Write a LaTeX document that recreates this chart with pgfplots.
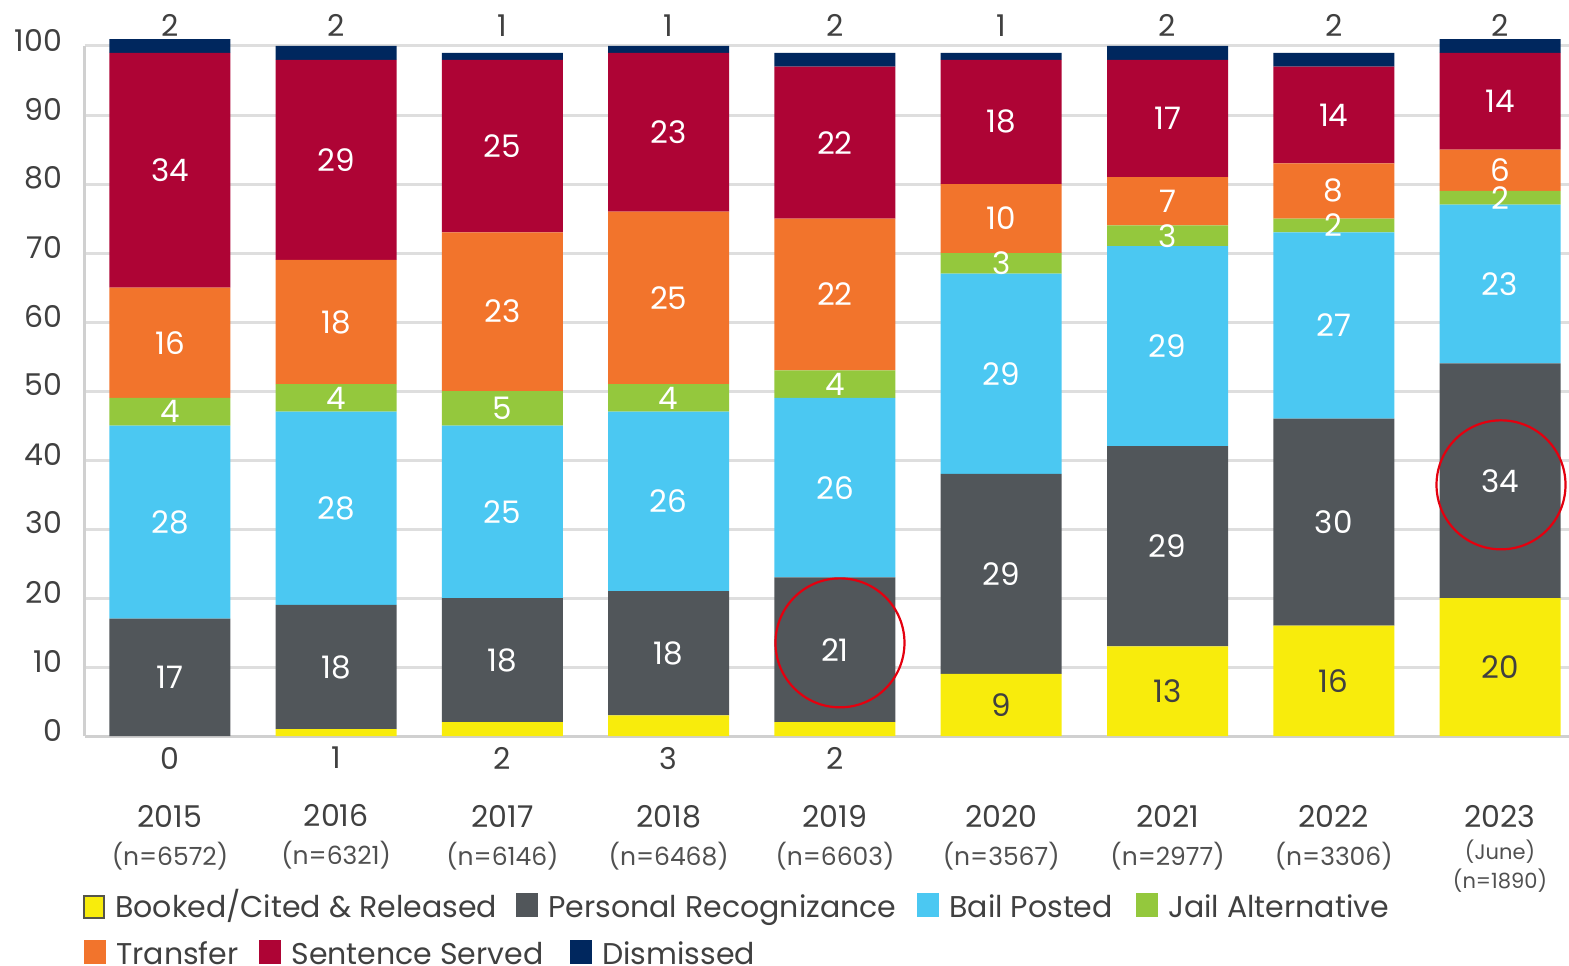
\documentclass[border=0pt]{standalone}
\usepackage{fontspec}
\setmainfont{Poppins}
\usepackage{pgfplots}
\pgfplotsset{compat=1.18}

\definecolor{cBooked}{HTML}{F8EC0C}
\definecolor{cPR}{HTML}{51565A}
\definecolor{cBail}{HTML}{4BC8F2}
\definecolor{cJail}{HTML}{94C83D}
\definecolor{cTransfer}{HTML}{F2742C}
\definecolor{cSentence}{HTML}{AE0435}
\definecolor{cDismissed}{HTML}{00275E}
\definecolor{cText}{HTML}{404040}
\definecolor{cN}{HTML}{505050}
\definecolor{cGrid}{HTML}{DEDEDE}
\definecolor{cAxis}{HTML}{D0D0D0}
\definecolor{cCircle}{HTML}{E4000F}

\newcommand{\nfont}{\fontsize{12.5}{19}\selectfont\color{cN}}
\newcommand{\sfont}{\fontsize{10.5}{19}\selectfont\color{cN}}
\newcommand{\lbox}[1]{\textcolor{#1}{\rule{11pt}{12pt}}}
\newcommand{\lboxb}[1]{{\setlength{\fboxsep}{0pt}\setlength{\fboxrule}{1pt}\fcolorbox[HTML]{55554A}{F8EC0C}{\rule{0pt}{10pt}\rule{9pt}{0pt}}}}

% value labels sit in the middle of each stacked segment
\pgfplotsset{
  get meta/.code={%
    \pgfkeys{/pgf/fpu=true,/pgf/fpu/output format=fixed}%
    \pgfmathparse{\pgfplotspointmeta}\global\let\metaval\pgfmathresult
    \pgfkeys{/pgf/fpu=false}%
  },
  mid labels/.style={
    nodes near coords={\pgfmathprintnumber[fixed,precision=0]{\pgfplotspointmeta}},
    every node near coord/.append style={anchor=center,
      /pgfplots/get meta, text=#1,
      font=\fontsize{15.5}{18}\selectfont},
  },
}

\begin{document}
\begin{tikzpicture}
\useasboundingbox (-42.5pt,-114.5pt) rectangle (742pt,368pt);
\begin{axis}[
  at={(0pt,0pt)}, anchor=south west,
  scale only axis, width=742pt, height=345pt,
  ybar stacked, bar width=60.5pt,
  xmin=-0.511, xmax=8.415, ymin=0, ymax=100,
  clip=false,
  axis x line*=bottom, axis y line*=left,
  axis line style={draw=cAxis, line width=1.5pt},
  major tick length=0,
  ytick={0,10,...,100},
  ymajorgrids, grid style={draw=cGrid, line width=1.5pt},
  /pgf/number format/assume math mode=true,
  yticklabel style={font=\fontsize{15}{17}\selectfont, text=cText, xshift=-8pt, yshift=3pt},
  xtick={0,...,8},
  xticklabels={
    {0\\[10pt]2015\\{\nfont(n=6572)}},
    {1\\[10pt]2016\\{\nfont(n=6321)}},
    {2\\[10pt]2017\\{\nfont(n=6146)}},
    {3\\[10pt]2018\\{\nfont(n=6468)}},
    {2\\[10pt]2019\\{\nfont(n=6603)}},
    {\phantom{0}\\[10pt]2020\\{\nfont(n=3567)}},
    {\phantom{0}\\[10pt]2021\\{\nfont(n=2977)}},
    {\phantom{0}\\[10pt]2022\\{\nfont(n=3306)}},
    {\phantom{0}\\[10pt]2023\\[-3pt]{\sfont(June)}\\[-4.5pt]{\sfont(n=1890)}}},
  xticklabel style={font=\fontsize{15}{19}\selectfont, text=cText, align=center, anchor=north, yshift=-2pt},
]
% Booked/Cited & Released (small values are written under the axis)
\addplot[fill=cBooked, draw=none, mid labels=cText,
  nodes near coords={\ifdim\metaval pt<5pt\relax\else\pgfmathprintnumber[fixed,precision=0]{\pgfplotspointmeta}\fi}]
  coordinates {(0,0) (1,1) (2,2) (3,3) (4,2) (5,9) (6,13) (7,16) (8,20)};
% Personal Recognizance
\addplot[fill=cPR, draw=none, mid labels=white]
  coordinates {(0,17) (1,18) (2,18) (3,18) (4,21) (5,29) (6,29) (7,30) (8,34)};
% Bail Posted
\addplot[fill=cBail, draw=none, mid labels=white]
  coordinates {(0,28) (1,28) (2,25) (3,26) (4,26) (5,29) (6,29) (7,27) (8,23)};
% Jail Alternative
\addplot[fill=cJail, draw=none, mid labels=white]
  coordinates {(0,4) (1,4) (2,5) (3,4) (4,4) (5,3) (6,3) (7,2) (8,2)};
% Transfer
\addplot[fill=cTransfer, draw=none, mid labels=white]
  coordinates {(0,16) (1,18) (2,23) (3,25) (4,22) (5,10) (6,7) (7,8) (8,6)};
% Sentence Served
\addplot[fill=cSentence, draw=none, mid labels=white]
  coordinates {(0,34) (1,29) (2,25) (3,23) (4,22) (5,18) (6,17) (7,14) (8,14)};
% Dismissed (values written above the plot by the second axis)
\addplot[fill=cDismissed, draw=none]
  coordinates {(0,2) (1,2) (2,1) (3,1) (4,2) (5,1) (6,2) (7,2) (8,2)};

\coordinate (c2019) at (axis cs:4.03,13.5);
\coordinate (c2023) at (axis cs:8.006,36.4);
\end{axis}

% red highlight circles, drawn over the bars
\draw[cCircle, line width=1.1pt] (c2019) circle[radius=32.25pt];
\draw[cCircle, line width=1.1pt] (c2023) circle[radius=32.25pt];

% top row: Dismissed values
\begin{axis}[
  at={(0pt,0pt)}, anchor=south west,
  scale only axis, width=742pt, height=345pt,
  xmin=-0.511, xmax=8.415, ymin=0, ymax=100,
  hide y axis, axis x line*=top, axis line style={draw=none},
  major tick length=0, xtick={0,...,8},
  xticklabels={2,2,1,1,2,1,2,2,2},
  xticklabel style={font=\fontsize{15}{18}\selectfont, text=cText, yshift=1pt},
]
\end{axis}

% legend
\begin{scope}[every node/.style={anchor=base west, inner sep=0pt, text=cText, font=\fontsize{15}{18}\selectfont}]
\node at (-1pt,-90.5pt) {\lboxb{cBooked}\hspace{5pt}Booked/Cited \& Released};
\node at (215.5pt,-90.5pt) {\lbox{cPR}\hspace{5pt}Personal Recognizance};
\node at (416pt,-90.5pt) {\lbox{cBail}\hspace{5pt}Bail Posted};
\node at (525.5pt,-90.5pt) {\lbox{cJail}\hspace{5pt}Jail Alternative};
\node at (-0.5pt,-114pt) {\lbox{cTransfer}\hspace{5pt}Transfer};
\node at (87pt,-114pt) {\lbox{cSentence}\hspace{5pt}Sentence Served};
\node at (242.5pt,-114pt) {\lbox{cDismissed}\hspace{5pt}Dismissed};
\end{scope}
\end{tikzpicture}
\end{document}
